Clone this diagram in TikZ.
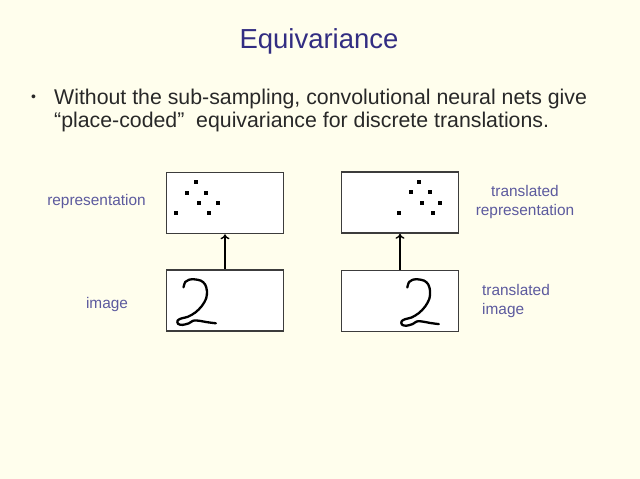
\documentclass[tikz,border=0pt]{standalone}
\usepackage{fontspec}
\setmainfont{Liberation Sans}
\usetikzlibrary{arrows.meta}
\definecolor{bgc}{RGB}{255,254,237}
\definecolor{titlec}{RGB}{50,45,130}
\definecolor{labc}{RGB}{92,90,158}
\definecolor{bodyc}{RGB}{40,40,40}
\definecolor{boxc}{RGB}{60,60,60}
\tikzset{
  panel/.style={draw=boxc, line width=1.6pt, fill=white, minimum width=117pt, minimum height=61pt, inner sep=0pt},
  arr/.style={draw=black, line width=2pt, -{To[length=5pt,width=9pt,line width=1.4pt]}},
  lab/.style={text=labc, font=\fontsize{15.4}{19}\selectfont, inner sep=0pt},
  body/.style={text=bodyc, font=\fontsize{21.3}{26}\selectfont, inner sep=0pt, anchor=base west},
  dot/.style={fill=black, minimum size=3.6pt, inner sep=0pt, draw=none},
  digit/.style={line width=2.3pt, line cap=round, line join=round, black}
}
\newcommand{\twostroke}{%
  \draw[digit] plot[smooth, tension=0.55] coordinates {(6,7.7) (7.7,2.7) (11,0.7) (16,0.3) (22,1.5) (26,5) (27.7,11) (27,18) (23,25) (17,31) (10,35) (4,36.5) (0.5,38.5) (1,41.5) (5,42.5) (11,41) (15,38.6) (20,38.6) (28,40) (36,41)};}
\begin{document}
\begin{tikzpicture}[x=1pt,y=-1pt]
\fill[bgc] (0,0) rectangle (640,479);
\useasboundingbox (0,0) rectangle (640,479);
% title
\node[text=titlec, font=\fontsize{27.5}{32}\selectfont, inner sep=0pt, anchor=base] (title) at (319,48.5) {Equivariance};
% bullet text
\node[text=bodyc, font=\fontsize{14}{18}\selectfont, inner sep=0pt] (bul) at (33.5,98) {•};
\node[body] (l1) at (54,104.5) {Without the sub-sampling, convolutional neural nets give};
\node[body] (l2) at (54,127) {“place-coded”\ \ equivariance for discrete translations.};
% boxes
\node[panel] (rep1) at (225,203) {};
\node[panel] (img1) at (225,300.5) {};
\node[panel] (rep2) at (400,202.5) {};
\node[panel] (img2) at (400,301) {};
\draw[arr] (img1.north) -- (rep1.south);
\draw[arr] (img2.north) -- (rep2.south);
% dots
\foreach \i/\p in {1/{(196,182)},2/{(187,193)},3/{(206,193)},4/{(199,203)},5/{(218,203)},6/{(176,213)},7/{(209,213)}}
  \node[dot] (da\i) at \p {};
\foreach \i/\p in {1/{(419,182)},2/{(411,192)},3/{(430,192)},4/{(422,203)},5/{(440,203)},6/{(399,213)},7/{(433,213)}}
  \node[dot] (db\i) at \p {};
% handwritten 2s
\begin{scope}[shift={(177,279)}, xscale=1.08, yscale=1.08]
  \twostroke
\end{scope}
\begin{scope}[shift={(401,279)}, xscale=1.05, yscale=1.1]
  \twostroke
\end{scope}
% labels
\node[lab, anchor=base] (lrep) at (96.5,205.5) {representation};
\node[lab, anchor=base] (limg) at (107,308.5) {image};
\node[lab, align=center] (ltrep) at (525,202) {translated\\representation};
\node[lab, align=left, anchor=west] (ltimg) at (482,301) {translated\\image};
\end{tikzpicture}
\end{document}
